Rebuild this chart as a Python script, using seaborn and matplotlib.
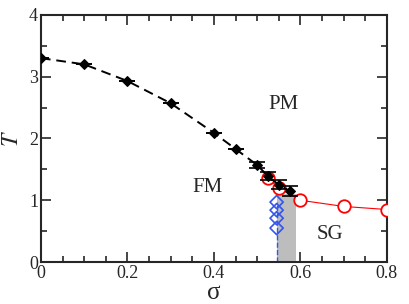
import matplotlib
matplotlib.use("Agg")
import matplotlib.pyplot as plt
import seaborn as sns
from matplotlib.ticker import MultipleLocator

# ferromagnetic transition line
sigma_fm = [0.0, 0.1, 0.2, 0.3, 0.4, 0.45, 0.5, 0.525, 0.55, 0.575]
T_fm = [3.3, 3.2, 2.93, 2.57, 2.09, 1.83, 1.57, 1.39, 1.25, 1.15]
err_fm = [0, 0, 0, 0, 0, 0, 0.05, 0.06, 0.07, 0.08]

# spin glass transition line
sigma_sg = [0.525, 0.55, 0.6, 0.7, 0.8]
T_sg = [1.36, 1.2, 1.0, 0.9, 0.85]

# blue points at the boundary
sigma_b = [0.545, 0.545, 0.545, 0.545]
T_b = [0.97, 0.84, 0.71, 0.55]

# shaded mixed region
shade_x = [0.545, 0.59]
shade_top = [1.1, 1.1]

sns.set_style("ticks")
plt.rcParams['font.family'] = ['Liberation Serif', 'DejaVu Serif']
plt.rcParams['mathtext.fontset'] = 'stix'

fig = plt.figure(figsize=(4.09, 3.04), dpi=100)
ax = fig.add_axes([0.1, 0.138, 0.846, 0.813])

ax.fill_between(shade_x, 0, shade_top, color='#bdbdbd', zorder=1, linewidth=0)

ax.plot([sigma_b[0], sigma_b[0]], [0, T_b[0]], color='#3355ee', lw=1, ls='--', zorder=2)
sns.scatterplot(x=sigma_b, y=T_b, ax=ax, marker='D', s=45, facecolor='none',
                edgecolor='#3355ee', linewidth=1.2, zorder=3)

sns.lineplot(x=sigma_sg, y=T_sg, ax=ax, color='red', lw=0.8, marker='o', ms=9,
             mfc='white', mec='red', mew=1.3, zorder=4)

ax.errorbar(sigma_fm, T_fm, yerr=err_fm, fmt='none', ecolor='black', elinewidth=1.2,
            capsize=6, capthick=1.2, zorder=5)
sns.lineplot(x=sigma_fm, y=T_fm, ax=ax, color='black', lw=1.4, ls=(0, (5, 3)),
             marker='D', ms=5.5, mfc='black', mec='black', zorder=6)

ax.text(0.56, 2.55, 'PM', fontsize=15, ha='center', va='center')
ax.text(0.385, 1.2, 'FM', fontsize=15, ha='center', va='center')
ax.text(0.668, 0.44, 'SG', fontsize=15, ha='center', va='center')

ax.set_xlim(0, 0.8)
ax.set_ylim(0, 4)
ax.xaxis.set_minor_locator(MultipleLocator(0.05))
ax.yaxis.set_major_locator(MultipleLocator(1))
ax.yaxis.set_minor_locator(MultipleLocator(0.5))
ax.set_xticks([0, 0.2, 0.4, 0.6, 0.8])
ax.set_xticklabels(['0', '0.2', '0.4', '0.6', '0.8'])
ax.tick_params(which='both', direction='in', top=True, right=True, labelsize=13, width=1.2)
ax.tick_params(which='major', length=7, pad=2)
ax.tick_params(which='minor', length=4)
for s in ax.spines.values():
    s.set_linewidth(1.5)

ax.set_xlabel('σ', fontsize=18, labelpad=0)
ax.set_ylabel('$T$', fontsize=17, labelpad=4)

fig.savefig('out.png', dpi=100)
